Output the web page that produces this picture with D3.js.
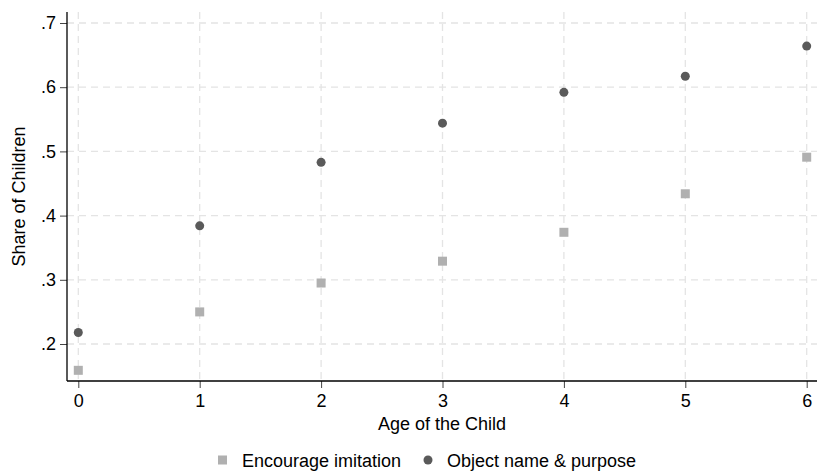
<!DOCTYPE html>
<html><head><meta charset="utf-8">
<script src="https://cdn.jsdelivr.net/npm/d3@7"></script>
<style>body{margin:0;background:#fff}svg{display:block}text{font-family:"Liberation Sans",Arial,sans-serif}</style>
</head><body>
<svg id="c" width="817" height="473"></svg>
<script>
const ages = [0,1,2,3,4,5,6];
const encourageImitation = [0.159,0.250,0.295,0.329,0.374,0.434,0.491];
const objectNamePurpose = [0.218,0.384,0.483,0.544,0.592,0.617,0.664];
const yTicks = [0.2,0.3,0.4,0.5,0.6,0.7];
const yTickLabels = [".2",".3",".4",".5",".6",".7"];
const xTicks = [0,1,2,3,4,5,6];
const seriesNames = ["Encourage imitation","Object name & purpose"];

const svg = d3.select("#c");
const L=67, R=817, T=12, B=381;
const x = d3.scaleLinear().domain([0,6]).range([78.3,806.7]);
const y = d3.scaleLinear().domain([0.2,0.7]).range([344,23]);
const fs = 18;

// grid
const g = svg.append("g");
g.selectAll(".gy").data(yTicks).join("line")
 .attr("x1",L).attr("x2",R).attr("y1",d=>y(d)).attr("y2",d=>y(d))
 .attr("stroke","#e4e4e4").attr("stroke-width",1.3).attr("stroke-dasharray","7,5");
g.selectAll(".gx").data(xTicks).join("line")
 .attr("y1",T).attr("y2",B).attr("x1",d=>x(d)).attr("x2",d=>x(d))
 .attr("stroke","#e4e4e4").attr("stroke-width",1.3).attr("stroke-dasharray","7,5");

// axes
const ya = d3.axisLeft(y).tickValues(yTicks).tickFormat((d,i)=>yTickLabels[i]).tickSize(7).tickPadding(4);
const yg = svg.append("g").attr("transform",`translate(${L},0)`).call(ya);
yg.select(".domain").remove();
yg.append("line").attr("x1",0).attr("x2",0).attr("y1",T).attr("y2",B).attr("stroke","#000").attr("stroke-width",1.3);
yg.selectAll(".tick line").attr("stroke","#444");
yg.selectAll(".tick text").attr("font-size",fs).attr("fill","#000").attr("font-family","Liberation Sans, Arial, sans-serif");

const xa = d3.axisBottom(x).tickValues(xTicks).tickFormat(d3.format("d")).tickSize(7).tickPadding(6);
const xg = svg.append("g").attr("transform",`translate(0,${B})`).call(xa);
xg.select(".domain").remove();
xg.append("line").attr("x1",L).attr("x2",R).attr("y1",0).attr("y2",0).attr("stroke","#000").attr("stroke-width",1.3);
xg.selectAll(".tick line").attr("stroke","#444");
xg.selectAll(".tick text").attr("font-size",fs).attr("fill","#000").attr("font-family","Liberation Sans, Arial, sans-serif");

// titles
svg.append("text").attr("x",442).attr("y",430).attr("text-anchor","middle").attr("font-size",fs).text("Age of the Child");
svg.append("text").attr("transform",`translate(25,${(T+B)/2}) rotate(-90)`).attr("text-anchor","middle").attr("font-size",fs).text("Share of Children");

// marks
svg.selectAll(".sq").data(ages).join("rect")
 .attr("x",(d)=>x(d)-4.5).attr("y",(d,i)=>y(encourageImitation[i])-4.5)
 .attr("width",9).attr("height",9).attr("fill","#b0b0b0");
svg.selectAll(".ci").data(ages).join("circle")
 .attr("cx",d=>x(d)).attr("cy",(d,i)=>y(objectNamePurpose[i])).attr("r",4.5).attr("fill","#5a5a5a");

// legend
const ly = 460;
svg.append("rect").attr("x",218).attr("y",ly-4.5).attr("width",9).attr("height",9).attr("fill","#b0b0b0");
svg.append("text").attr("x",242).attr("y",ly+6.5).attr("font-size",fs).text(seriesNames[0]);
svg.append("circle").attr("cx",428).attr("cy",ly).attr("r",4.5).attr("fill","#5a5a5a");
svg.append("text").attr("x",447).attr("y",ly+6.5).attr("font-size",fs).text(seriesNames[1]);
</script>
</body></html>
